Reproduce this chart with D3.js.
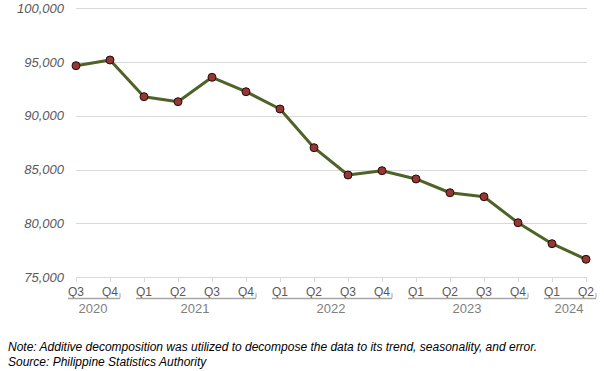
<!DOCTYPE html>
<html>
<head>
<meta charset="utf-8">
<script src="https://cdn.jsdelivr.net/npm/d3@7"></script>
<style>
  body { margin: 0; background: #fff; }
  svg { display: block; font-family: "Liberation Sans", Arial, sans-serif; }
</style>
</head>
<body>
<svg width="604" height="371"></svg>
<script>
// quarterly values, Q3 2020 .. Q2 2024
var quarters = ["Q3", "Q4", "Q1", "Q2", "Q3", "Q4", "Q1", "Q2", "Q3", "Q4", "Q1", "Q2", "Q3", "Q4", "Q1", "Q2"];
var years = ["2020", "2020", "2021", "2021", "2021", "2021", "2022", "2022", "2022", "2022", "2023", "2023", "2023", "2023", "2024", "2024"];
var values = [94660, 95190, 91775, 91310, 93580, 92240, 90630, 87030, 84490, 84890, 84120, 82840, 82470, 80050, 78100, 76650];
var yTicks = [75000, 80000, 85000, 90000, 95000, 100000];
var notes = [
  "Note: Additive decomposition was utilized to decompose the data to its trend, seasonality, and error.",
  "Source: Philippine Statistics Authority"
];

var svg = d3.select("svg");

var x = d3.scalePoint()
    .domain(d3.range(values.length))
    .range([76, 586]);

var y = d3.scaleLinear()
    .domain([75000, 100000])
    .range([277, 8.3]);

// gridlines
svg.append("g")
    .selectAll("line")
    .data(yTicks)
    .enter().append("line")
    .attr("x1", 76)
    .attr("x2", 587)
    .attr("y1", function(d) { return Math.round(y(d)) + 0.5; })
    .attr("y2", function(d) { return Math.round(y(d)) + 0.5; })
    .attr("stroke", "#d9d9d9")
    .attr("stroke-width", 1);

// y labels
svg.append("g")
    .attr("font-size", 13)
    .attr("font-style", "italic")
    .attr("fill", "#595959")
    .attr("text-anchor", "end")
    .selectAll("text")
    .data(yTicks)
    .enter().append("text")
    .attr("x", 64)
    .attr("y", function(d) { return y(d) + 4.6; })
    .text(function(d) { return d3.format(",")(d); });

// x tick marks
svg.append("g")
    .selectAll("line")
    .data(d3.range(values.length))
    .enter().append("line")
    .attr("x1", function(d) { return Math.round(x(d)) + 0.5; })
    .attr("x2", function(d) { return Math.round(x(d)) + 0.5; })
    .attr("y1", 277)
    .attr("y2", 282)
    .attr("stroke", "#d9d9d9");

// quarter labels
svg.append("g")
    .attr("font-size", 12)
    .attr("fill", "#595959")
    .attr("text-anchor", "middle")
    .selectAll("text")
    .data(quarters)
    .enter().append("text")
    .attr("x", function(d, i) { return x(i); })
    .attr("y", 296)
    .text(function(d) { return d; });

// year groups
var groups = d3.groups(d3.range(values.length), function(i) { return years[i]; });
var grp = svg.append("g").selectAll("g")
    .data(groups)
    .enter().append("g");

grp.append("line")
    .attr("x1", function(d) { return x(d[1][0]) - 8; })
    .attr("x2", function(d) { return x(d[1][d[1].length - 1]) + 10; })
    .attr("y1", 298.5)
    .attr("y2", 298.5)
    .attr("stroke", "#a6a6a6")
    .attr("stroke-width", 1.5);

grp.append("line")
    .attr("x1", function(d) { return x(d[1][d[1].length - 1]) + 10; })
    .attr("x2", function(d) { return x(d[1][d[1].length - 1]) + 10; })
    .attr("y1", 293)
    .attr("y2", 298)
    .attr("stroke", "#a6a6a6");

grp.append("text")
    .attr("x", function(d) { return (x(d[1][0]) + x(d[1][d[1].length - 1])) / 2; })
    .attr("y", 312.5)
    .attr("font-size", 13)
    .attr("fill", "#7f7f7f")
    .attr("text-anchor", "middle")
    .text(function(d) { return d[0]; });

// line
var line = d3.line()
    .x(function(d, i) { return x(i); })
    .y(function(d) { return y(d); });

svg.append("path")
    .datum(values)
    .attr("d", line)
    .attr("fill", "none")
    .attr("stroke", "#4f6228")
    .attr("stroke-width", 3)
    .attr("stroke-linejoin", "round");

svg.append("g")
    .selectAll("circle")
    .data(values)
    .enter().append("circle")
    .attr("cx", function(d, i) { return x(i); })
    .attr("cy", function(d) { return y(d); })
    .attr("r", 4)
    .attr("fill", "#953735")
    .attr("stroke", "#2a0a0a")
    .attr("stroke-width", 1);

// notes
svg.append("g")
    .attr("font-size", 12)
    .attr("font-style", "italic")
    .attr("fill", "#000")
    .selectAll("text")
    .data(notes)
    .enter().append("text")
    .attr("x", 8)
    .attr("y", function(d, i) { return 351 + i * 15; })
    .text(function(d) { return d; });
</script>
</body>
</html>
